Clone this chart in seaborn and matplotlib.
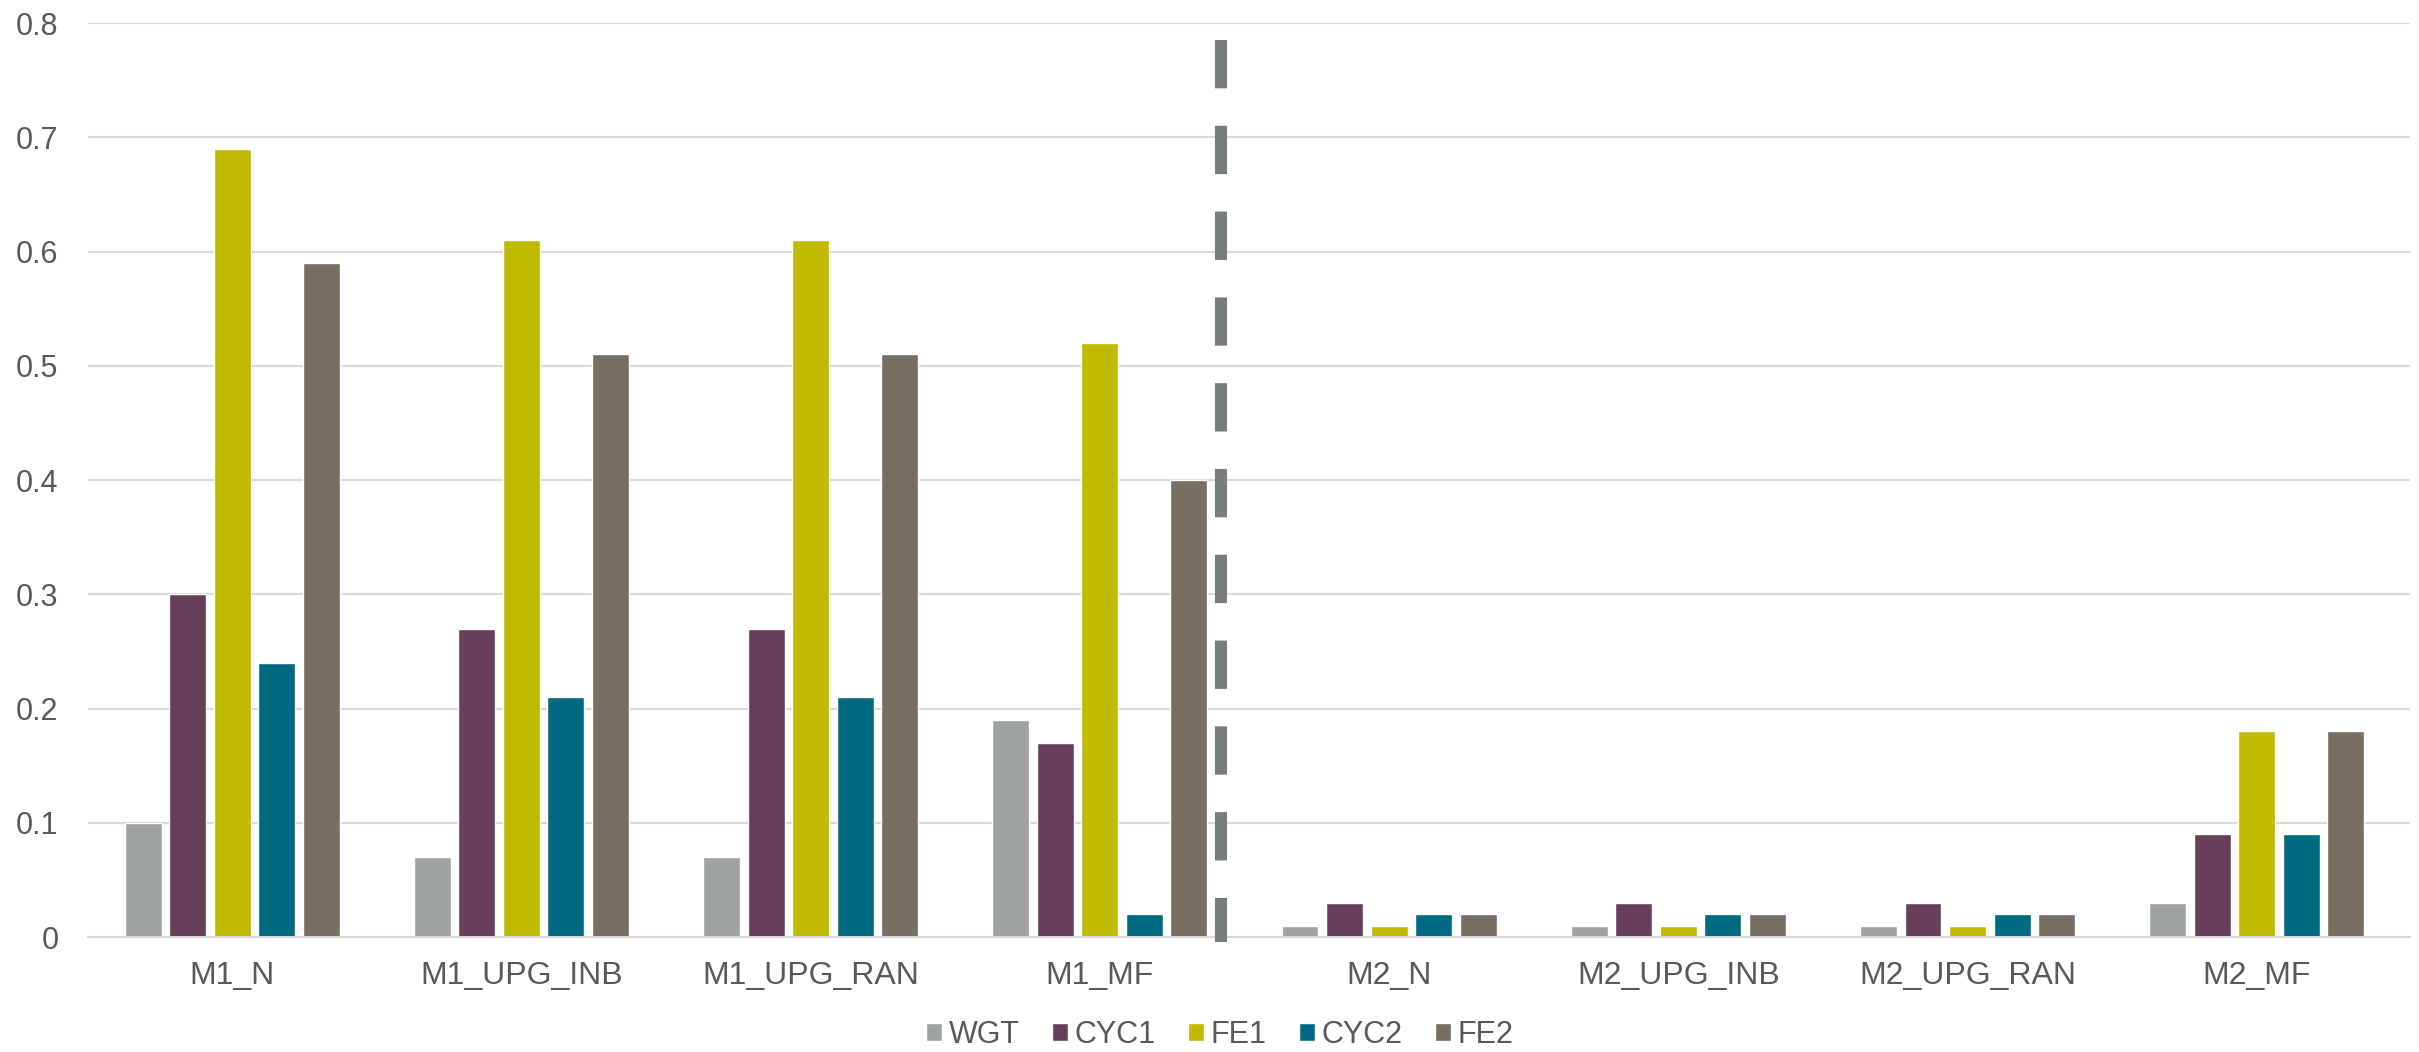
import matplotlib
matplotlib.use("Agg")
import matplotlib.pyplot as plt
import seaborn as sns
import pandas as pd

categories = ["M1_N", "M1_UPG_INB", "M1_UPG_RAN", "M1_MF",
              "M2_N", "M2_UPG_INB", "M2_UPG_RAN", "M2_MF"]
series = ["WGT", "CYC1", "FE1", "CYC2", "FE2"]
wgt = [0.10, 0.07, 0.07, 0.19, 0.01, 0.01, 0.01, 0.03]
cyc1 = [0.30, 0.27, 0.27, 0.17, 0.03, 0.03, 0.03, 0.09]
fe1 = [0.69, 0.61, 0.61, 0.52, 0.01, 0.01, 0.01, 0.18]
cyc2 = [0.24, 0.21, 0.21, 0.02, 0.02, 0.02, 0.02, 0.09]
fe2 = [0.59, 0.51, 0.51, 0.40, 0.02, 0.02, 0.02, 0.18]
colors = ["#A0A3A3", "#673F5A", "#C0BA00", "#006A80", "#776E62"]

# separator between the M1 and M2 model groups
divider_x = 3.42
divider_top = 0.785

rows = []
for name, vals in zip(series, [wgt, cyc1, fe1, cyc2, fe2]):
    for cat, v in zip(categories, vals):
        rows.append({"category": cat, "series": name, "value": v})
df = pd.DataFrame(rows)

sns.set_theme(style="white")
plt.rcParams["font.family"] = ["Liberation Sans", "DejaVu Sans"]

fig = plt.figure(figsize=(24.19, 10.52), dpi=100)
ax = fig.add_axes([0.0362, 0.1093, 0.9601, 0.8688])

sns.barplot(data=df, x="category", y="value", hue="series",
            order=categories, hue_order=series, palette=colors,
            width=0.77, gap=0.17, ax=ax, legend=True, saturation=1)

# drawn top-down so the dash pattern starts with a full dash at the top
ax.plot([divider_x, divider_x], [divider_top, -0.004], color="#757D7D",
        linewidth=8.7, linestyle=(0, (4.0, 3.1)), solid_capstyle="butt",
        dash_capstyle="butt", zorder=5, clip_on=False)

ax.set_ylim(0, 0.8)
ax.set_xlim(-0.5, 7.53)
ax.set_yticks([0, 0.1, 0.2, 0.3, 0.4, 0.5, 0.6, 0.7, 0.8])
ax.set_yticklabels(["0", "0.1", "0.2", "0.3", "0.4", "0.5", "0.6", "0.7", "0.8"])
ax.yaxis.grid(True, color="#D9D9D9", linewidth=1.5)
ax.set_axisbelow(True)
for s in ["top", "right", "left"]:
    ax.spines[s].set_visible(False)
ax.spines["bottom"].set_color("#D9D9D9")
ax.spines["bottom"].set_linewidth(1.5)
ax.tick_params(axis="both", length=0, colors="#595959")
ax.tick_params(axis="x", pad=17, labelsize=23)
ax.tick_params(axis="y", pad=21, labelsize=22)
ax.set_xlabel("")
ax.set_ylabel("")

handles, labels = ax.get_legend_handles_labels()
ax.get_legend().remove()
fig.legend(handles, labels, loc="center", bbox_to_anchor=(0.5043, 0.016),
           ncol=5, frameon=False, fontsize=22, handlelength=0.52,
           handleheight=0.52, handletextpad=0.23, columnspacing=1.05,
           borderpad=0, labelcolor="#595959")

fig.savefig("out.png", dpi=100)
